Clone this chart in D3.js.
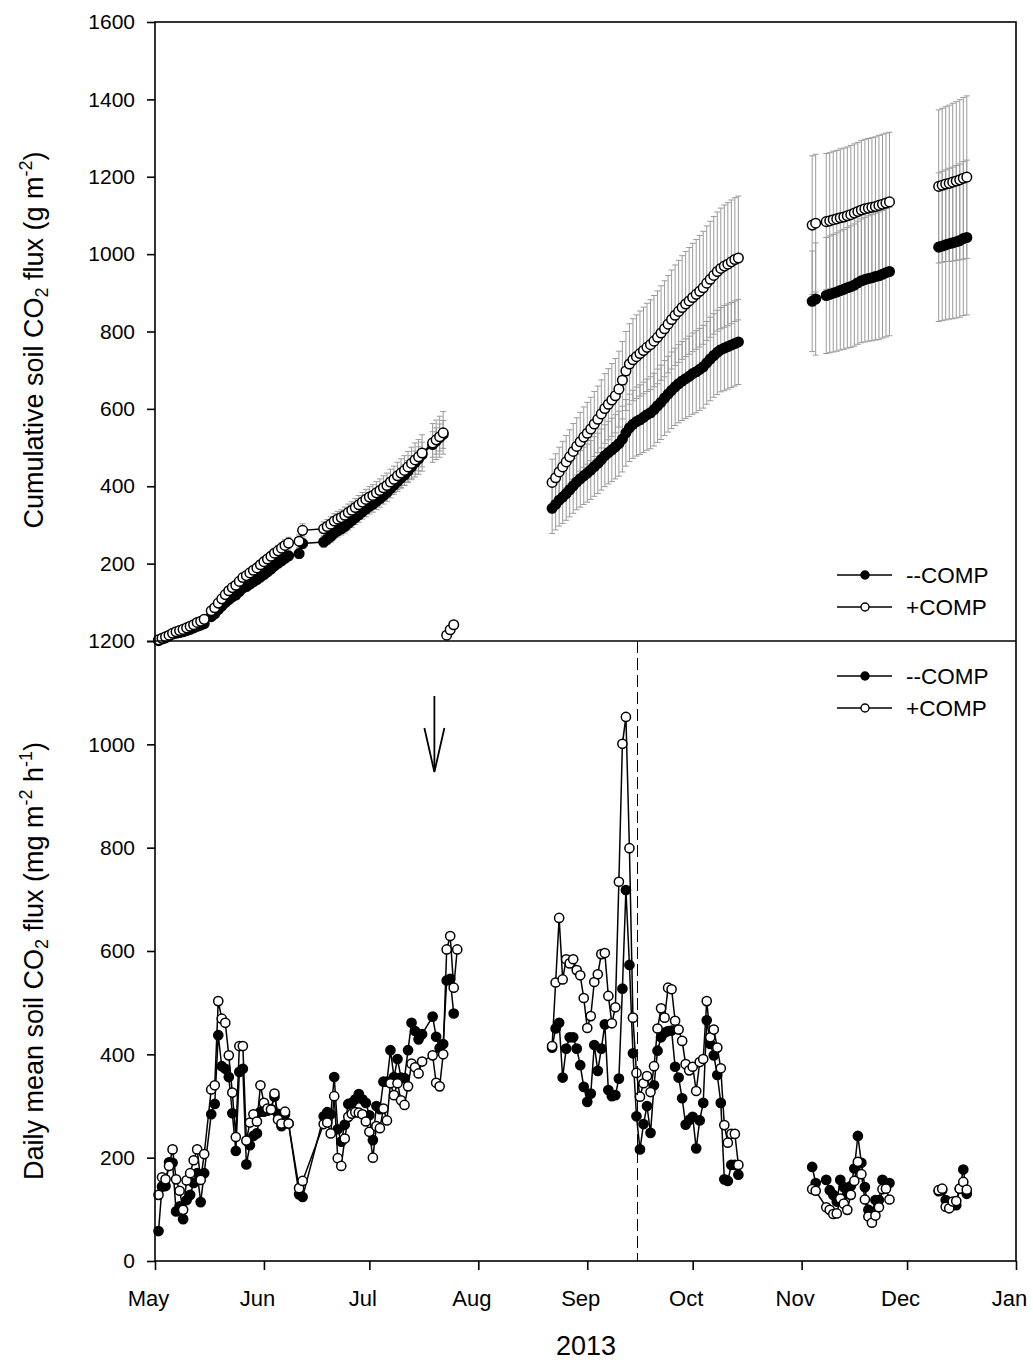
<!DOCTYPE html>
<html><head><meta charset="utf-8">
<script src="https://cdn.jsdelivr.net/npm/d3@7"></script>
<style>body{margin:0;background:#fff} text{font-family:"Liberation Sans",Arial,sans-serif;fill:#000}</style>
</head><body><svg id="c" width="1033" height="1362"></svg>
<script>
// ---------- DATA (day offsets from 1 May 2013) ----------
const monthLabels = ["May","Jun","Jul","Aug","Sep","Oct","Nov","Dec","Jan"];
const topTicks = [0,200,400,600,800,1000,1200,1400,1600];
const topTickLabels = ["","200","400","600","800","1000","1200","1400","1600"];
const botTicks = [0,200,400,600,800,1000,1200];
const seriesNames = ["--COMP","+COMP"];

// Period 1
const days1 = [1,2,3,4,5,6,7,8,9,10,11,12,13,14,16,17,18,19,20,21,22,23,24,25,26,27,28,29,30,31,32,33,34,35,36,37,38,41,42,48,49,50,51,52,53,54,55,56,57,58,59,60,61,62,63,64,65,66,67,68,69,70,71,72,73,74,75,76,79,80,81,82,83,84,85,86];
const fluxF1 = [58,144,145,191,190,96,106,81,118,128,151,170,114,170,
  284,304,437,377,372,356,286,213,366,372,187,224,242,247,289,289,291,294,318,285,261,284,266,
  129,124,
  280,288,284,356,255,231,264,304,306,313,323,313,306,282,234,300,294,347,347,408,356,391,355,354,408,461,445,429,439,
  473,434,412,420,543,546,479,null];
const fluxO1 = [128,162,158,184,216,158,136,99,156,170,195,216,157,207,
  332,340,503,469,461,398,326,240,416,416,233,268,284,270,340,306,295,293,324,274,266,289,266,
  141,155,
  265,268,247,319,199,184,237,279,285,288,287,284,270,250,200,261,257,295,272,344,321,344,311,302,338,382,375,363,386,
  398,345,338,400,603,629,529,603];
const cumF1 = [1,5,8,13,18,20,22,24,27,30,34,38,41,45,
  63,70,81,90,99,107,114,119,128,137,141,147,153,159,165,172,179,186,194,201,207,214,220,
  226,252,
  256,263,270,279,285,290,296,304,311,319,326,334,341,348,354,361,368,376,384,394,403,412,421,429,439,450,461,471,482,
  508,517,526,534,null,null,null,null];
const cumO1 = [3,7,11,15,20,24,27,30,34,38,42,48,51,56,
  78,86,98,109,120,130,138,144,154,164,169,176,183,189,197,205,212,219,227,233,240,247,253,
  258,286,
  290,296,302,310,315,319,325,332,338,345,352,359,366,372,376,383,389,396,402,411,418,427,434,441,450,459,468,476,486,
  512,520,528,538,null,null,null,null];
const errF1 = [1,1,1,1,2,2,2,2,2,3,3,3,3,3,
  4,4,5,5,5,6,6,6,7,7,7,8,8,8,9,9,9,10,10,10,11,11,12,
  12,13,
  14,14,15,15,16,16,17,17,18,18,19,19,20,20,21,21,22,22,23,24,24,25,26,27,28,29,30,31,32,
  33,34,35,36,0,0,0,0];
const errO1 = [1,1,1,2,2,2,2,3,3,3,3,4,4,4,
  5,5,6,6,7,7,8,8,9,9,9,10,10,11,11,12,12,13,13,14,14,15,15,
  16,17,
  18,18,19,19,20,20,21,22,22,23,24,25,26,27,28,29,30,31,32,33,34,35,37,38,40,42,44,45,47,
  50,51,53,55,0,0,0,0];
// re-started cumulative points plotted at end of July
const cumRestartDays = [83,84,85];
const cumRestartO = [15,29,42];

// Period 2
const days2 = [113,114,115,116,117,118,119,120,121,122,123,124,125,126,127,128,129,130,131,132,133,134,135,136,137,138,139,140,141,142,143,144,145,146,147,148,149,150,151,152,153,154,155,156,157,158,159,160,161,162,163,164,165,166];
const fluxF2 = [413,450,461,355,411,433,433,411,379,337, 308,324,418,368,411,458,331,319,321,353,
  527,718,573,402,280,216,265,300,248,340, 407,433,442,445,446,376,355,315,264,273,
  279,218,272,306,466,420,398,360,306,158, 155,186,186,167];
const fluxO2 = [416,539,664,545,584,576,584,563,553,509, 451,474,540,555,594,596,513,460,491,734,
  1001,1053,799,471,364,318,344,358,327,377, 450,489,471,529,526,465,448,426,381,369,
  376,329,385,391,503,433,448,413,373,263, 229,246,246,186];
const cumF2 = [343,353,364,372,381,391,401,411,419,427, 434,442,451,459,469,479,487,494,502,510,
  522,538,551,560,567,572,578,585,590,598, 608,617,628,638,648,657,665,672,678,684,
  691,696,702,709,719,729,738,746,753,757, 761,765,769,773];
const cumO2 = [410,422,437,450,463,476,490,503,515,527, 537,548,561,573,587,601,612,623,634,651,
  674,698,716,727,735,743,751,759,766,775, 785,796,807,819,831,842,852,862,871,879,
  888,896,904,913,925,935,945,955,963,969, 974,980,986,990];
const errF2 = [65,66,67,68,69,70,71,72,73,74, 75,76,77,78,79,80,81,82,83,84,
  85,86,87,88,89,90,91,92,93,94, 95,96,97,98,99,100,101,102,103,104,
  105,106,106,107,107,108,108,109,109,110, 110,110,110,110];
const errO2 = [60,62,64,66,68,70,72,74,76,78, 80,82,84,86,88,90,92,94,96,98,
  100,102,104,106,108,110,112,114,116,118, 120,122,124,126,128,130,132,134,136,138,
  140,142,144,146,148,150,152,154,156,158, 159,160,160,160];

// Period 3
const days3 = [187,188,191,192,193,194,195,196,197,198,199,200,201,202,203,204,205,206,207,208,209];
const fluxF3 = [182,151,157,137,128,115,157,143,130,145,179,242,190,143,99,92,118,118,157,150,151];
const fluxO3 = [139,136,104,99,91,92,121,111,99,128,155,192,168,119,86,74,88,104,139,140,119];
const cumF3 = [878,884,893,896,899,902,906,909,913,916,920,926,931,934,937,939,942,944,948,952,955];
const cumO3 = [1075,1080,1084,1086,1089,1091,1094,1096,1099,1102,1106,1110,1114,1117,1119,1121,1123,1126,1129,1132,1135];
const errF3 = [130,145,150,151,152,153,154,155,156,157,158,159,160,161,162,163,164,165,165,166,166];
const errO3 = [179,178,176,176,177,177,178,178,178,179,179,179,180,180,180,180,180,181,181,181,180];

// Period 4
const days4 = [223,224,225,226,227,228,229,230,231];
const fluxF4 = [135,137,118,110,108,108,140,177,130];
const fluxO4 = [137,140,105,102,115,116,140,153,138];
const cumF4 = [1018,1021,1024,1027,1029,1032,1035,1040,1043];
const cumO4 = [1175,1178,1181,1183,1186,1189,1192,1196,1199];
const errF4 = [192,193,194,195,196,197,198,199,200];
const errO4 = [198,199,200,202,204,205,207,209,210];

// annotations
const arrowDay = 79.5;
const dashedDay = 137.3;

// ---------- CHART ----------
const svg = d3.select("#c");
const L = 155, R = 1016;
const base = Date.UTC(2013,4,1);
const dt = d => new Date(base + d*864e5);
const x = d3.scaleUtc().domain([new Date(base), new Date(Date.UTC(2014,0,1))]).range([L, R]);
const yTop = d3.scaleLinear().domain([0,1600]).range([641,22]);
const yBot = d3.scaleLinear().domain([0,1200]).range([1261,641]);

const periods = [
  {days:days1, fF:fluxF1, fO:fluxO1, cF:cumF1, cO:cumO1, eF:errF1, eO:errO1},
  {days:days2, fF:fluxF2, fO:fluxO2, cF:cumF2, cO:cumO2, eF:errF2, eO:errO2},
  {days:days3, fF:fluxF3, fO:fluxO3, cF:cumF3, cO:cumO3, eF:errF3, eO:errO3},
  {days:days4, fF:fluxF4, fO:fluxO4, cF:cumF4, cO:cumO4, eF:errF4, eO:errO4}
];

const gErr = svg.append("g");
const gF = svg.append("g");
const gO = svg.append("g");

function errBars(g, pts, y){
  pts.filter(p => p.v != null && p.e > 0).forEach(p => {
    const cx = x(dt(p.d)), y1 = y(p.v - p.e), y2 = y(p.v + p.e);
    g.append("line").attr("x1",cx).attr("x2",cx).attr("y1",y1).attr("y2",y2).attr("stroke","#9a9a9a").attr("stroke-width",1);
    [y1,y2].forEach(yy => g.append("line").attr("x1",cx-3).attr("x2",cx+3).attr("y1",yy).attr("y2",yy).attr("stroke","#9a9a9a").attr("stroke-width",1));
  });
}
function series(g, pts, y, filled, r){
  const line = d3.line().defined(p => p.v != null).x(p => x(dt(p.d))).y(p => y(p.v));
  g.append("path").attr("d", line(pts)).attr("fill","none").attr("stroke","#000").attr("stroke-width",1.5);
  g.selectAll(null).data(pts.filter(p => p.v != null)).enter().append("circle")
    .attr("cx", p => x(dt(p.d))).attr("cy", p => y(p.v)).attr("r", r)
    .attr("fill", filled ? "#000" : "#fff").attr("stroke","#000").attr("stroke-width",1.5);
}

periods.forEach(P => {
  const cF = P.days.map((d,i) => ({d, v:P.cF[i], e:P.eF[i]}));
  const cO = P.days.map((d,i) => ({d, v:P.cO[i], e:P.eO[i]}));
  const fF = P.days.map((d,i) => ({d, v:P.fF[i], e:0}));
  const fO = P.days.map((d,i) => ({d, v:P.fO[i], e:0}));
  errBars(gErr, cF, yTop); errBars(gErr, cO, yTop);
  series(gF, cF, yTop, true, 4.8);
  series(gO, cO, yTop, false, 4.8);
  series(gF, fF, yBot, true, 4.6);
  series(gO, fO, yBot, false, 4.6);
});
series(gO, cumRestartDays.map((d,i) => ({d, v:cumRestartO[i]})), yTop, false, 4.8);

// frame
const frame = svg.append("g").attr("stroke","#000").attr("stroke-width",1.6).attr("fill","none");
frame.append("rect").attr("x",L).attr("y",22).attr("width",R-L).attr("height",1261-22);
frame.append("line").attr("x1",L).attr("x2",R).attr("y1",641).attr("y2",641);

// axes
const fs = 21;
const ax1 = svg.append("g").attr("transform",`translate(${L},0)`)
  .call(d3.axisLeft(yTop).tickValues(topTicks).tickSize(8).tickPadding(12).tickFormat((d,i) => topTickLabels[i]));
const ax2 = svg.append("g").attr("transform",`translate(${L},0)`)
  .call(d3.axisLeft(yBot).tickValues(botTicks).tickSize(8).tickPadding(12).tickFormat(d3.format("d")));
const monthDates = d3.range(0,9).map(i => new Date(Date.UTC(2013, 4+i, 1)));
const ax3 = svg.append("g").attr("transform",`translate(0,1261)`)
  .call(d3.axisBottom(x).tickValues(monthDates).tickSize(9).tickPadding(20).tickFormat((d,i) => monthLabels[i]));
[ax1,ax2,ax3].forEach(a => {
  a.select(".domain").remove();
  a.selectAll("line").attr("stroke","#000").attr("stroke-width",1.6);
  a.selectAll("text").attr("font-size",fs).attr("font-family","Liberation Sans, Arial, sans-serif").attr("fill","#000");
});
ax3.selectAll("text").attr("dx",-7).attr("font-size",22);

// axis titles
svg.append("text").attr("x",586).attr("y",1355).attr("text-anchor","middle").attr("font-size",27).text("2013");

function yTitle(cx, cy, parts){
  const t = svg.append("text").attr("transform",`translate(${cx},${cy}) rotate(-90)`).attr("text-anchor","middle").attr("font-size",27);
  parts.forEach(p => {
    const s = t.append("tspan").text(p[0]);
    if (p[1] === "sub") s.attr("baseline-shift","-25%").attr("font-size",18);
    if (p[1] === "sup") s.attr("baseline-shift","60%").attr("font-size",18);
  });
}
yTitle(43, 340, [["Cumulative soil CO"],["2","sub"],[" flux (g m"],["-2","sup"],[")"]]);
yTitle(43, 961, [["Daily mean soil CO"],["2","sub"],[" flux (mg m"],["-2","sup"],[" h"],["-1","sup"],[")"]]);

// legends
function legend(y0){
  [true,false].forEach((filled,i) => {
    const yy = y0 + i*32;
    svg.append("line").attr("x1",837).attr("x2",892).attr("y1",yy).attr("y2",yy).attr("stroke","#000").attr("stroke-width",1.5);
    svg.append("circle").attr("cx",865).attr("cy",yy).attr("r",4).attr("fill",filled?"#000":"#fff").attr("stroke","#000").attr("stroke-width",1.4);
    svg.append("text").attr("x",906).attr("y",yy).attr("dy","0.36em").attr("font-size",22.5).text(seriesNames[i]);
  });
}
legend(575);
legend(676);

// arrow and dashed line
const ax = x(dt(arrowDay));
svg.append("line").attr("x1",ax).attr("x2",ax).attr("y1",696).attr("y2",771).attr("stroke","#000").attr("stroke-width",1.8);
svg.append("path").attr("d",`M${ax-10},728 L${ax},772 L${ax+10},728`).attr("fill","none").attr("stroke","#000").attr("stroke-width",1.8);
const dx = x(dt(dashedDay));
svg.append("line").attr("x1",dx).attr("x2",dx).attr("y1",641).attr("y2",1261).attr("stroke","#000").attr("stroke-width",1).attr("stroke-dasharray","12,5");
</script>
</body></html>
